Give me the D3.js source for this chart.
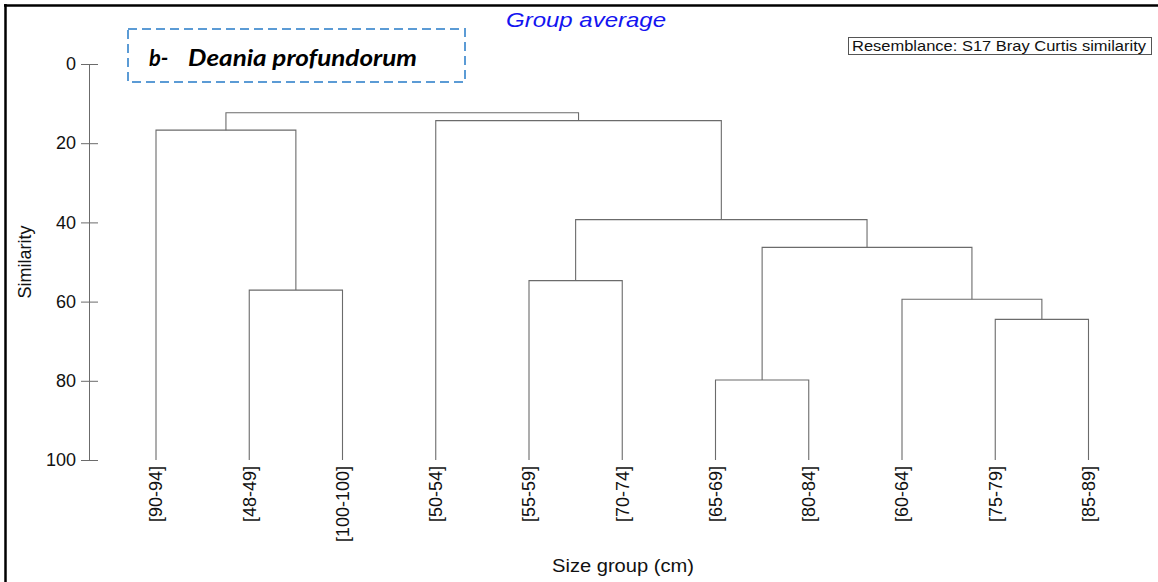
<!DOCTYPE html>
<html>
<head>
<meta charset="utf-8">
<script src="https://cdn.jsdelivr.net/npm/d3@7"></script>
<style>
  body { margin: 0; background: #fff; }
  text { font-family: Arial, "Liberation Sans", sans-serif; }
</style>
</head>
<body>
<svg id="chart" width="1158" height="582"></svg>
<script>
// leaves, left to right as drawn
var leaves = ["[90-94]", "[48-49]", "[100-100]", "[50-54]", "[55-59]", "[70-74]",
              "[65-69]", "[80-84]", "[60-64]", "[75-79]", "[85-89]"];

// merge table, hclust style: negative = leaf (1-based), positive = earlier merge
var merges = [[-2, -3], [-1, 1], [-5, -6], [-7, -8], [-10, -11],
              [-9, 5], [4, 6], [3, 7], [-4, 8], [2, 9]];
var mergeHeights = [57.1, 16.7, 54.7, 79.8, 64.5, 59.4, 46.3, 39.3, 14.3, 12.3];

var yTicks = [0, 20, 40, 60, 80, 100];

var svg = d3.select("#chart");

var x = d3.scalePoint().domain(leaves).range([156, 1088.5]);
var y = d3.scaleLinear().domain([0, 100]).range([64, 460]);

// frame (top and left edges only, like the cropped figure)
svg.append("line").attr("x1", 4).attr("x2", 1158).attr("y1", 5.5).attr("y2", 5.5)
  .attr("stroke", "#000").attr("stroke-width", 2.5);
svg.append("line").attr("x1", 5.5).attr("x2", 5.5).attr("y1", 4).attr("y2", 582)
  .attr("stroke", "#000").attr("stroke-width", 2.5);

// node positions
function nodePos(id) {
  if (id < 0) return { x: x(leaves[-id - 1]), h: 100 };
  return pos[id - 1];
}
var pos = [];
merges.forEach(function (m, i) {
  var a = nodePos(m[0]), b = nodePos(m[1]);
  pos.push({ x: (a.x + b.x) / 2, h: mergeHeights[i], a: a, b: b });
});

var tree = svg.append("g");
tree.selectAll("path")
  .data(pos)
  .enter().append("path")
  .attr("d", function (d) {
    return "M" + d.a.x + "," + y(d.a.h) +
           "V" + y(d.h) + "H" + d.b.x + "V" + y(d.b.h);
  })
  .attr("fill", "none")
  .attr("stroke", "#6b6b6b")
  .attr("stroke-width", 1.1);

// y axis
var yAxis = d3.axisLeft(y).tickValues(yTicks).tickSize(8).tickSizeOuter(0);
var ga = svg.append("g")
  .attr("transform", "translate(89,0)")
  .call(yAxis);
ga.select(".domain").attr("stroke", "#6b6b6b");
ga.selectAll(".tick line").attr("x1", 9).attr("x2", -8).attr("stroke", "#6b6b6b");
ga.selectAll(".tick text")
  .attr("x", -13)
  .attr("fill", "#111")
  .style("font-size", "18px")
  .style("font-family", "Arial, 'Liberation Sans', sans-serif");

svg.append("text")
  .attr("transform", "translate(31,262) rotate(-90)")
  .attr("text-anchor", "middle")
  .style("font-size", "18px")
  .attr("fill", "#111")
  .text("Similarity");

// leaf labels
svg.append("g").selectAll("text")
  .data(leaves)
  .enter().append("text")
  .attr("transform", function (d) { return "translate(" + x(d) + ",466) rotate(-90)"; })
  .attr("text-anchor", "end")
  .attr("dy", "0.35em")
  .style("font-size", "18px")
  .attr("fill", "#111")
  .text(function (d) { return d; });

svg.append("text")
  .attr("x", 552).attr("y", 572)
  .attr("textLength", 142).attr("lengthAdjust", "spacingAndGlyphs")
  .style("font-size", "18px")
  .attr("fill", "#111")
  .text("Size group (cm)");

// titles
svg.append("text")
  .attr("x", 506).attr("y", 27)
  .attr("textLength", 160).attr("lengthAdjust", "spacingAndGlyphs")
  .style("font-size", "21px").style("font-style", "italic")
  .attr("fill", "#1414f0")
  .text("Group average");

svg.append("rect")
  .attr("x", 848.5).attr("y", 37.5).attr("width", 303).attr("height", 17)
  .attr("fill", "#fff").attr("stroke", "#555");
svg.append("text")
  .attr("x", 852).attr("y", 51)
  .attr("textLength", 294).attr("lengthAdjust", "spacingAndGlyphs")
  .style("font-size", "15px")
  .attr("fill", "#111")
  .text("Resemblance: S17 Bray Curtis similarity");

// species label in dashed box
svg.append("rect")
  .attr("x", 128).attr("y", 29).attr("width", 337).attr("height", 53)
  .attr("fill", "none").attr("stroke", "#5b9bd5")
  .attr("stroke-width", 2).attr("stroke-dasharray", "9,5");
svg.append("text")
  .attr("x", 149).attr("y", 66)
  .style("font-family", "Lato, 'Open Sans', sans-serif")
  .style("font-size", "22px").style("font-weight", "bold").style("font-style", "italic")
  .attr("fill", "#000")
  .text("b-");
svg.append("text")
  .attr("x", 188).attr("y", 66)
  .attr("textLength", 229).attr("lengthAdjust", "spacingAndGlyphs")
  .style("font-family", "Lato, 'Open Sans', sans-serif")
  .style("font-size", "22px").style("font-weight", "bold").style("font-style", "italic")
  .attr("fill", "#000")
  .text("Deania profundorum");
</script>
</body>
</html>
